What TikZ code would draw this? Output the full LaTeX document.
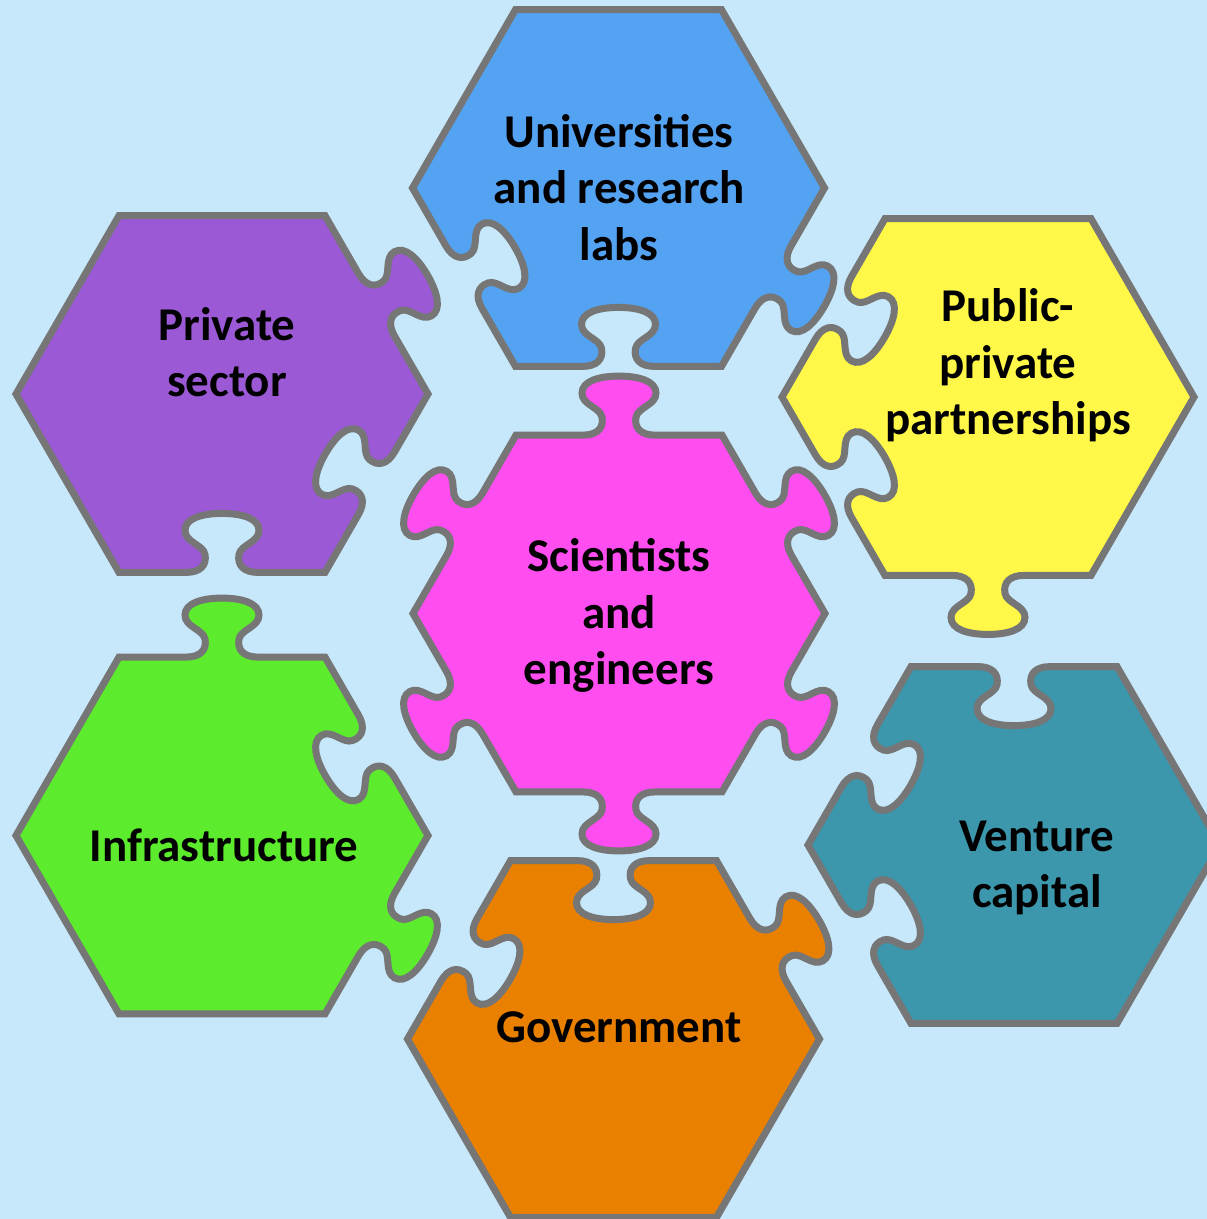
\documentclass[tikz,border=0pt]{standalone}
\usepackage{fontspec}
\setmainfont{Carlito}
\definecolor{bg}{RGB}{198,232,250}
\definecolor{edgegray}{RGB}{118,118,118}
\definecolor{pblue}{RGB}{84,162,242}
\definecolor{ppurple}{RGB}{155,89,214}
\definecolor{pyellow}{RGB}{255,248,72}
\definecolor{ppink}{RGB}{255,77,240}
\definecolor{pgreen}{RGB}{92,235,45}
\definecolor{pteal}{RGB}{60,150,172}
\definecolor{porange}{RGB}{234,128,0}
\newcommand\edgeF[2]{}
\newcommand\edgeT[2]{{[shift={#1},rotate=#2] -- (-36,0) .. controls (-22,0) and (-15,-7) .. (-17,-18) .. controls (-19,-28) and (-37,-30) .. (-37,-42) .. controls (-37,-54) and (-20,-59) .. (0,-59) .. controls (20,-59) and (37,-54) .. (37,-42) .. controls (37,-30) and (19,-28) .. (17,-18) .. controls (15,-7) and (22,0) .. (36,0)}}
\newcommand\edgeB[2]{{[shift={#1},rotate=#2] -- (-36,0) .. controls (-22,0) and (-15,7) .. (-17,18) .. controls (-19,28) and (-37,30) .. (-37,42) .. controls (-37,54) and (-20,59) .. (0,59) .. controls (20,59) and (37,54) .. (37,42) .. controls (37,30) and (19,28) .. (17,18) .. controls (15,7) and (22,0) .. (36,0)}}
\newcommand\puzzle[9]{%
  \path[piece,fill=#9]
    (#1-103,#2-178.4) #3{(#1,#2-178.4)}{0}
    -- (#1+103,#2-178.4) #4{(#1+154.5,#2-89.2)}{-60}
    -- (#1+206,#2) #5{(#1+154.5,#2+89.2)}{-120}
    -- (#1+103,#2+178.4) #6{(#1,#2+178.4)}{-180}
    -- (#1-103,#2+178.4) #7{(#1-154.5,#2+89.2)}{-240}
    -- (#1-206,#2) #8{(#1-154.5,#2-89.2)}{-300}
    -- cycle;}
\tikzset{
  piece/.style={draw=edgegray,line width=7pt,line join=miter},
  lbl/.style={font=\fontsize{47}{56.5}\selectfont\bfseries,align=center,inner sep=0pt,anchor=center,text=black}
}
\begin{document}
\begin{tikzpicture}[x=1pt,y=-1pt]
\useasboundingbox (0,0) rectangle (1207,1219);
\fill[bg] (0,0) rectangle (1207,1219);
\clip (0,0) rectangle (1207,1219);
% pieces: edges = top, upper-right, lower-right, bottom, lower-left, upper-left
\puzzle{618.5}{188}{\edgeF}{\edgeF}{\edgeT}{\edgeB}{\edgeB}{\edgeF}{pblue}
\puzzle{222}{394}{\edgeF}{\edgeT}{\edgeB}{\edgeB}{\edgeF}{\edgeF}{ppurple}
\puzzle{988}{397}{\edgeF}{\edgeF}{\edgeF}{\edgeT}{\edgeB}{\edgeB}{pyellow}
\puzzle{222}{835.5}{\edgeT}{\edgeB}{\edgeT}{\edgeF}{\edgeF}{\edgeF}{pgreen}
\puzzle{1014}{845}{\edgeB}{\edgeF}{\edgeF}{\edgeF}{\edgeB}{\edgeB}{pteal}
\puzzle{613.5}{1039}{\edgeB}{\edgeT}{\edgeF}{\edgeF}{\edgeF}{\edgeB}{porange}
\puzzle{619}{613.5}{\edgeT}{\edgeT}{\edgeT}{\edgeT}{\edgeT}{\edgeT}{ppink}
% labels
\node[lbl] (uni) at (619,192.5) {\strut Universities\\\strut and research\\\strut labs};
\node[lbl] (priv) at (227,357) {\strut Private\\\strut sector};
\node[lbl] (ppp) at (1008,367) {\strut Public-\\\strut private\\\strut partnerships};
\node[lbl] (sci) at (619,617) {\strut Scientists\\\strut and\\\strut engineers};
\node[lbl] (infra) at (224,849.7) {\strut Infrastructure};
\node[lbl] (vc) at (1037,868) {\strut Venture\\\strut capital};
\node[lbl] (gov) at (619,1030.7) {\strut Government};
\end{tikzpicture}
\end{document}
